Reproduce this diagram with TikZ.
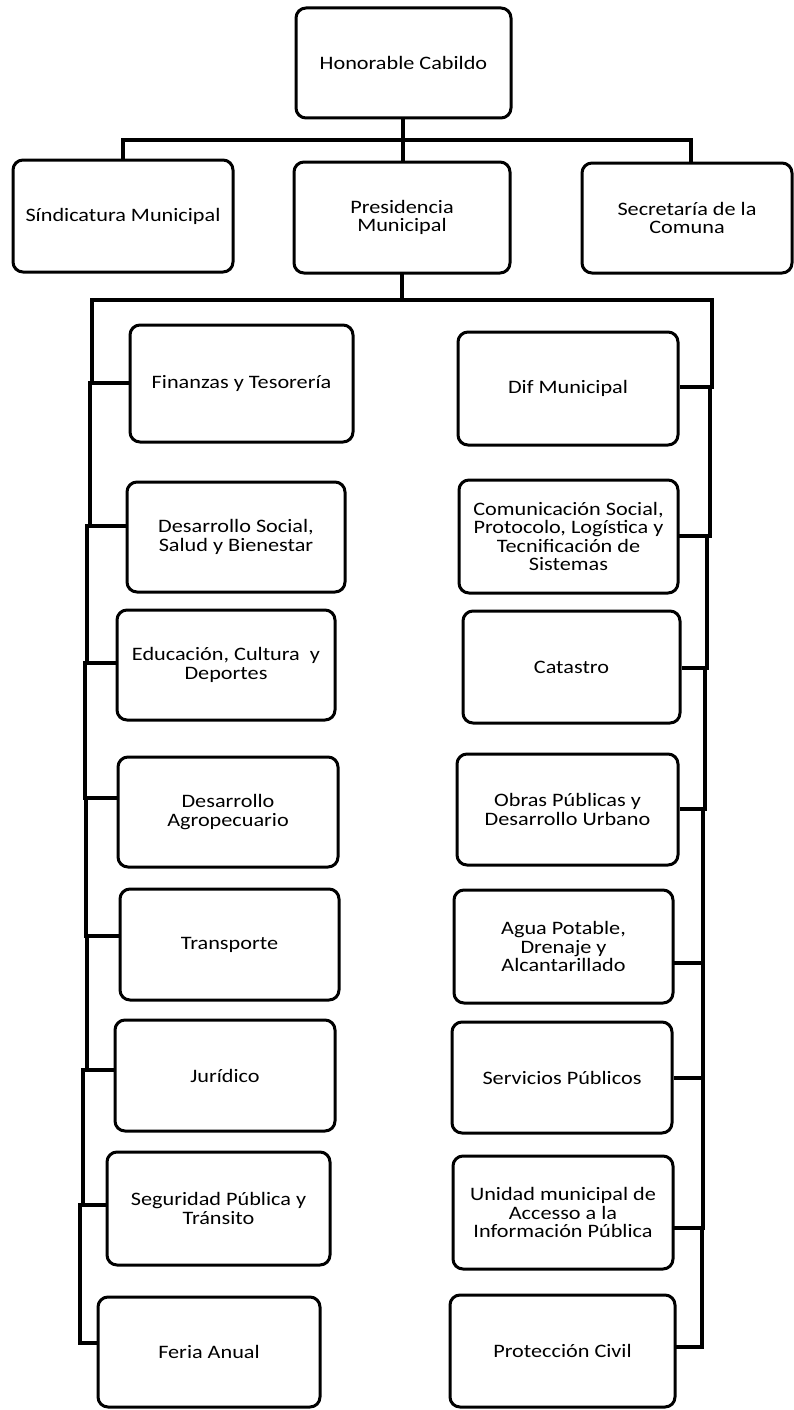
\documentclass[tikz,border=0pt]{standalone}
\usepackage{fontspec}
\setmainfont{Carlito}[FakeStretch=1.17]
\tikzset{
  box/.style={draw=black, line width=3pt, rounded corners=10pt, fill=white,
    align=center, inner sep=2pt, font=\fontsize{19}{18.5}\selectfont},
  wire/.style={draw=black, line width=3.2pt, line cap=rect},
  thickwire/.style={draw=black, line width=4.5pt},
}
\newcommand\obox[6]{\node[box, minimum width={#4-#2}, minimum height={#5-#3}] (#1) at ({(#2+#4)/2},{(#3+#5)/2}) {#6};}
\begin{document}
\begin{tikzpicture}[x=1pt, y=-1pt]
\useasboundingbox (0,0) rectangle (793,1410);
\fill[white] (0,0) rectangle (793,1410);
% top level
\obox{cab}{296}{8}{511}{118}{Honorable Cabildo}
\obox{sind}{13}{160}{233}{272}{Síndicatura Municipal}
\obox{pres}{294}{162}{510}{273}{Presidencia\\Municipal}
\obox{secr}{582}{163}{792}{273}{Secretaría de la\\Comuna}
% left column
\obox{fin}{130}{325}{353}{442}{Finanzas y Tesorería}
\obox{dsoc}{127}{482}{345}{592}{Desarrollo Social,\\Salud y Bienestar}
\obox{edu}{117}{610}{335}{720}{Educación, Cultura~~y\\Deportes}
\obox{agro}{118}{757}{338}{867}{Desarrollo\\Agropecuario}
\obox{trans}{120}{889}{339}{1000}{Transporte}
\obox{jur}{115}{1020}{335}{1131}{Jurídico}
\obox{seg}{107}{1152}{330}{1265}{Seguridad Pública y\\Tránsito}
\obox{feria}{98}{1297}{320}{1407}{Feria Anual}
% right column
\obox{dif}{458}{332}{678}{445}{Dif Municipal}
\obox{com}{459}{480}{678}{593}{Comunicación Social,\\Protocolo, Logística y\\Tecnificación de\\Sistemas}
\obox{cat}{463}{611}{680}{723}{Catastro}
\obox{obras}{457}{754}{678}{865}{Obras Públicas y\\Desarrollo Urbano}
\obox{agua}{454}{890}{673}{1003}{Agua Potable,\\Drenaje y\\Alcantarillado}
\obox{serv}{452}{1022}{672}{1133}{Servicios Públicos}
\obox{uni}{453}{1156}{673}{1269}{Unidad municipal de\\Accesso a la\\Información Pública}
\obox{prot}{450}{1295}{675}{1407}{Protección Civil}

% top connectors
\coordinate (tmid) at (403,140);
\coordinate (tl) at (123,140);
\coordinate (tr) at (691,140);
\draw[wire] (cab.south -| tmid) -- (tmid);
\draw[wire] (tl) -- (tr);
\draw[wire] (tl) -- (sind.north -| tl);
\draw[wire] (tmid) -- (pres.north -| tmid);
\draw[wire] (tr) -- (secr.north -| tr);

% presidencia bus
\coordinate (pmid) at (402,300);
\coordinate (ltop) at (92,300);
\coordinate (rtop) at (712,300);
\draw[wire] (pres.south -| pmid) -- (pmid);
\draw[wire] (ltop) -- (rtop);

% left bus junctions
\coordinate (lj1) at (90,383);
\coordinate (lj2) at (87,526);
\coordinate (lj3) at (85,663);
\coordinate (lj4) at (86,798);
\coordinate (lj5) at (87,936);
\coordinate (lj6) at (83,1070);
\coordinate (lj7) at (80,1205);
\coordinate (lj8) at (80,1343);
\draw[wire] (ltop) |- (lj1) |- (lj2) |- (lj3) |- (lj4) |- (lj5) |- (lj6) |- (lj7) |- (lj8);
\draw[thickwire] (lj1) -- (fin.west |- lj1);
\draw[thickwire] (lj2) -- (dsoc.west |- lj2);
\draw[thickwire] (lj3) -- (edu.west |- lj3);
\draw[wire] (lj4) -- (agro.west |- lj4);
\draw[wire] (lj5) -- (trans.west |- lj5);
\draw[wire] (lj6) -- (jur.west |- lj6);
\draw[wire] (lj7) -- (seg.west |- lj7);
\draw[wire] (lj8) -- (feria.west |- lj8);

% right bus junctions
\coordinate (rj1) at (710,387);
\coordinate (rj2) at (707,536);
\coordinate (rj3) at (705,668);
\coordinate (rj4) at (703,809);
\coordinate (rj5) at (703,963);
\coordinate (rj6) at (703,1078);
\coordinate (rj7) at (702,1228);
\coordinate (rj8) at (702,1347);
\draw[wire] (rtop) |- (rj1) |- (rj2) |- (rj3) |- (rj4) |- (rj5) |- (rj6) |- (rj7) |- (rj8);
\draw[thickwire] (rj1) -- (dif.east |- rj1);
\draw[wire] (rj2) -- (com.east |- rj2);
\draw[thickwire] (rj3) -- (cat.east |- rj3);
\draw[thickwire] (rj4) -- (obras.east |- rj4);
\draw[wire] (rj5) -- (agua.east |- rj5);
\draw[thickwire] (rj6) -- (serv.east |- rj6);
\draw[wire] (rj7) -- (uni.east |- rj7);
\draw[wire] (rj8) -- (prot.east |- rj8);
\end{tikzpicture}
\end{document}
